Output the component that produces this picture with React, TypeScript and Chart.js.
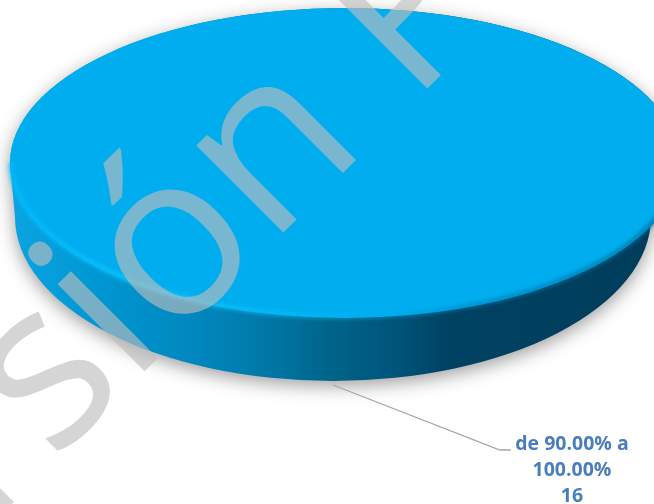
import React, { useEffect, useRef } from "react";
import { Chart, registerables } from "chart.js";

Chart.register(...registerables);

const categories = ["de 90.00% a 100.00%"];
const labelLines = ["de 90.00% a", "100.00%"];
const seriesValues = [16];
const sliceColors = ["#00AEEF"];
const watermarkText = "Versión Preliminar";

// Tilted-disc projection applied around the pie's centre.
const faceCentre = { x: 345, y: 163 };
const faceRadii = { x: 335, y: 155 };
const baseCentre = { x: 333, y: 217 };
const baseRadii = { x: 318, y: 164 };

const disc3d = {
  id: "disc3d",
  beforeDatasetsDraw(chart: any) {
    const { ctx } = chart;
    const arc = chart.getDatasetMeta(0).data[0];

    ctx.save();
    ctx.beginPath();
    ctx.ellipse(faceCentre.x, faceCentre.y, faceRadii.x, faceRadii.y, 0, 0, Math.PI * 2);
    ctx.ellipse(baseCentre.x, baseCentre.y, baseRadii.x, baseRadii.y, 0, 0, Math.PI * 2);
    ctx.moveTo(faceCentre.x - faceRadii.x, faceCentre.y);
    ctx.lineTo(faceCentre.x + faceRadii.x, faceCentre.y);
    ctx.lineTo(baseCentre.x + baseRadii.x, baseCentre.y);
    ctx.lineTo(baseCentre.x - baseRadii.x, baseCentre.y);
    ctx.closePath();

    const side = ctx.createLinearGradient(10, 0, 654, 0);
    side.addColorStop(0, "#0AA5E2");
    side.addColorStop(0.14, "#0096D2");
    side.addColorStop(0.3, "#0086BC");
    side.addColorStop(0.42, "#0074A2");
    side.addColorStop(0.5, "#006388");
    side.addColorStop(0.6, "#00547A");
    side.addColorStop(0.68, "#004262");
    side.addColorStop(1, "#003D5C");
    ctx.shadowColor = "rgba(0,0,0,0.38)";
    ctx.shadowBlur = 18;
    ctx.shadowOffsetY = 5;
    ctx.fillStyle = side;
    ctx.fill();
    ctx.restore();

    // Flatten the library's circular slice into the disc's top face.
    ctx.save();
    ctx.translate(faceCentre.x, faceCentre.y);
    ctx.scale(faceRadii.x / arc.outerRadius, faceRadii.y / arc.outerRadius);
    ctx.translate(-arc.x, -arc.y);
  },
  afterDatasetsDraw(chart: any) {
    const { ctx } = chart;
    const value = chart.data.datasets[0].data[0];
    ctx.restore();

    // Soft rim along the near edge of the face.
    const rim = ctx.createLinearGradient(10, 0, 654, 0);
    rim.addColorStop(0, "rgba(0,190,255,0.9)");
    rim.addColorStop(0.25, "rgba(20,200,255,1)");
    rim.addColorStop(0.45, "rgba(10,190,250,0.7)");
    rim.addColorStop(0.58, "rgba(0,174,239,0.5)");
    rim.addColorStop(0.7, "rgba(0,130,185,0.75)");
    rim.addColorStop(1, "rgba(0,110,160,0.9)");
    ctx.save();
    ctx.filter = "blur(2px)";
    ctx.strokeStyle = rim;
    ctx.lineWidth = 4;
    ctx.beginPath();
    ctx.ellipse(faceCentre.x, faceCentre.y - 1, faceRadii.x - 1, faceRadii.y, 0, 0, Math.PI);
    ctx.stroke();
    ctx.restore();

    // Leader line and data label.
    ctx.save();
    ctx.strokeStyle = "#A6A6A6";
    ctx.lineWidth = 1.3;
    ctx.beginPath();
    ctx.moveTo(333, 385);
    ctx.lineTo(500, 450);
    ctx.lineTo(511, 450);
    ctx.stroke();
    ctx.fillStyle = "#4A7EBB";
    ctx.font = "700 19.5px 'Open Sans'";
    ctx.textAlign = "center";
    ctx.textBaseline = "middle";
    [...labelLines, String(value)].forEach((line, i) => ctx.fillText(line, 572, 444 + i * 26));
    ctx.restore();

    // Diagonal watermark over the whole figure.
    ctx.save();
    ctx.translate(0, 516);
    ctx.rotate(-Math.PI / 4);
    ctx.fillStyle = "rgba(189,189,189,0.635)";
    ctx.font = "500 230px 'Open Sans'";
    ctx.textAlign = "left";
    ctx.textBaseline = "alphabetic";
    ctx.fillText(watermarkText, -285, 0);
    ctx.restore();
  },
};

export default function App() {
  const ref = useRef<HTMLCanvasElement | null>(null);

  useEffect(() => {
    const chart = new Chart(ref.current as HTMLCanvasElement, {
      type: "pie",
      data: {
        labels: categories,
        datasets: [{ data: seriesValues, backgroundColor: sliceColors, borderWidth: 0 }],
      },
      options: {
        responsive: false,
        animation: false,
        plugins: { legend: { display: false }, tooltip: { enabled: false } },
      },
      plugins: [disc3d],
    });
    return () => chart.destroy();
  }, []);

  return (
    <div style={{ position: "absolute", left: 0, top: 0, width: 654, height: 504, background: "#fff" }}>
      <canvas ref={ref} width={654} height={504} style={{ display: "block" }} />
    </div>
  );
}
